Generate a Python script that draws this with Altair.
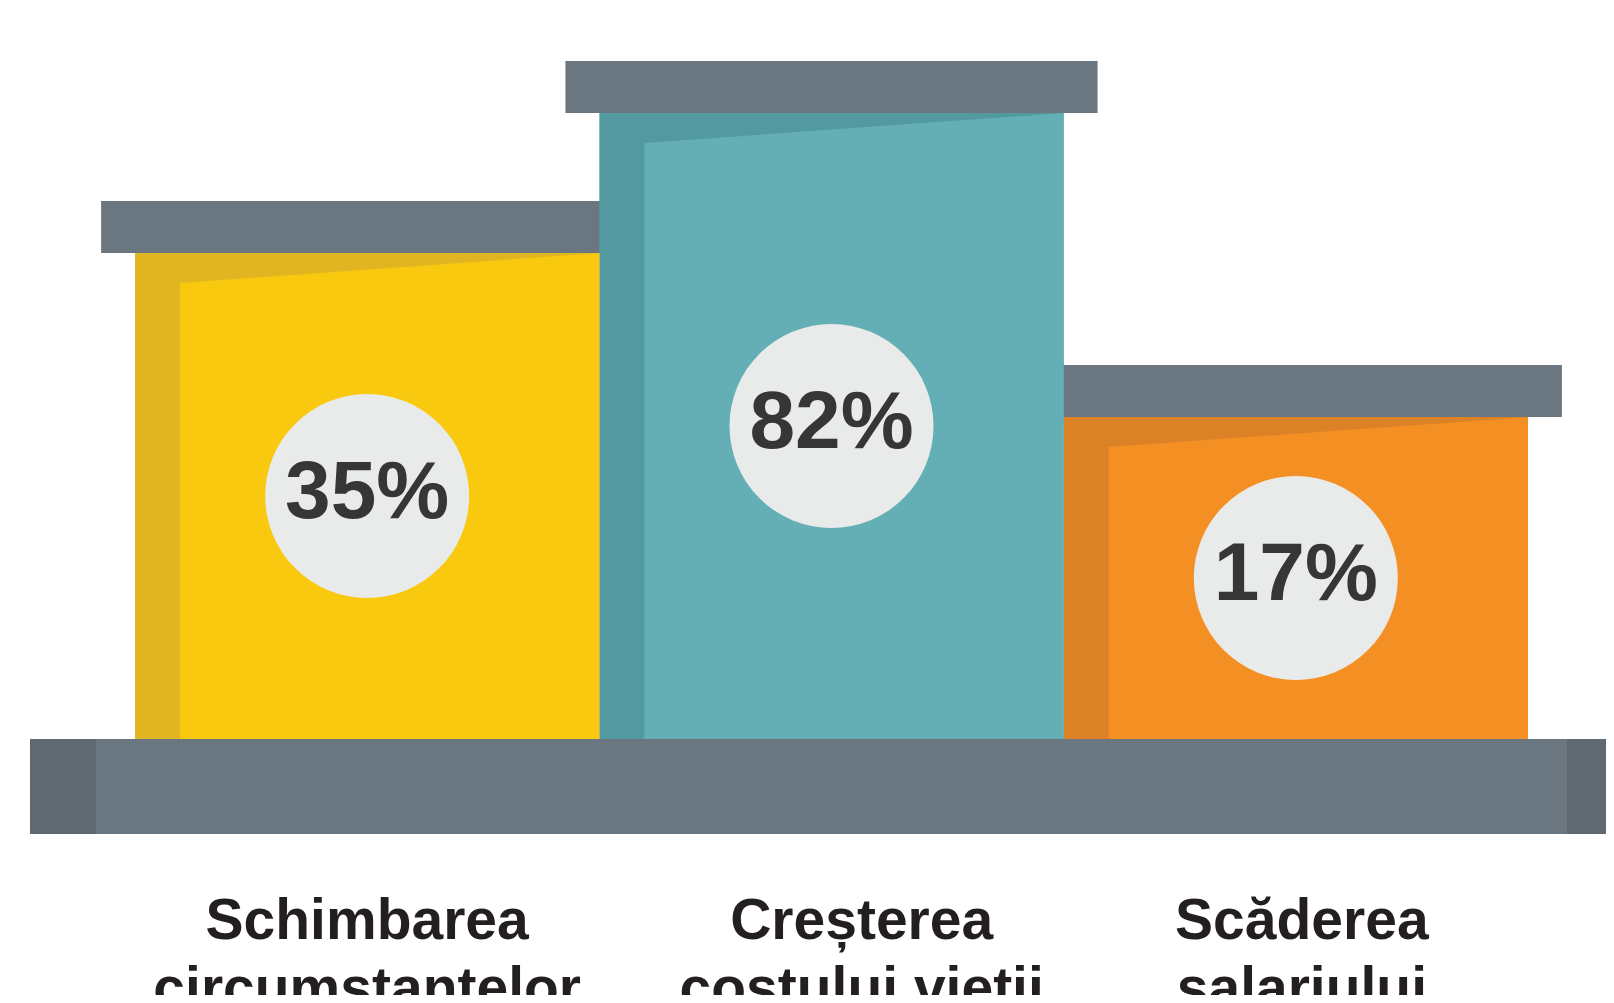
import altair as alt
import pandas as pd

# ---- data ----
categories = ["Schimbarea circumstantelor", "Creșterea costului vietii", "Scăderea salariului"]
label_text = ["Schimbarea\ncircumstantelor", "Creșterea\ncostului vietii", "Scăderea\nsalariului"]
values = [35, 82, 17]                 # percentages shown in the circles
podium_heights = [4.86, 6.26, 3.22]   # drawn podium heights (relative units)

# ---- styles ----
main_colors = ["#f9c90f", "#64afb5", "#f48f23"]
dark_colors = ["#e1b522", "#5399a0", "#db8227"]
CAP = "#6b7780"
BASE_END = "#5e6970"
CIRCLE = "#e9ebea"

# ---- frame (pixels per unit) ----
PX = 464.33
W, H = 1598, 987
x0 = -0.5 - (135 - 8) / PX
x1 = x0 + W / PX
y_top = (739 - 8) / 100.0
y_bot = y_top - H / 100.0

xs = alt.Scale(domain=[x0, x1], nice=False, zero=False)
ys = alt.Scale(domain=[y_bot, y_top], nice=False, zero=False)

n = len(categories)
df = pd.DataFrame({
    "cat": categories,
    "idx": list(range(n)),
    "value": values,
    "h": podium_heights,
    "label": label_text,
    "main": main_colors,
    "dark": dark_colors,
})

cap_over = 0.073
cap_thick = 0.52
strip = 0.097
slant = 0.30
base_over = 0.226
base_end = 0.142
base_depth = 0.95

base_df = pd.DataFrame({
    "x": [-0.5 - base_over, -0.5 - base_over, n - 0.5 + base_over - base_end],
    "x2": [n - 0.5 + base_over, -0.5 - base_over + base_end, n - 0.5 + base_over],
    "y": [0, 0, 0],
    "y2": [-base_depth] * 3,
    "fill": [CAP, BASE_END, BASE_END],
})

base = alt.Chart(base_df).mark_rect(clip=True).encode(
    x=alt.X("x:Q", scale=xs, axis=None),
    x2="x2:Q",
    y=alt.Y("y:Q", scale=ys, axis=None),
    y2="y2:Q",
    fill=alt.Fill("fill:N", scale=None),
)

caps = alt.Chart(df).transform_calculate(
    xl=f"datum.idx - 0.5 - {cap_over}",
    xr=f"datum.idx + 0.5 + {cap_over}",
    yt=f"datum.h + {cap_thick}",
).mark_rect(fill=CAP).encode(
    x=alt.X("xl:Q", scale=xs, axis=None),
    x2="xr:Q",
    y=alt.Y("h:Q", scale=ys, axis=None),
    y2="yt:Q",
)

bars_dark = alt.Chart(df).transform_calculate(
    xl="datum.idx - 0.5",
    xr="datum.idx + 0.5",
    y0="0",
).mark_rect().encode(
    x=alt.X("xl:Q", scale=xs, axis=None),
    x2="xr:Q",
    y=alt.Y("h:Q", scale=ys, axis=None),
    y2="y0:Q",
    fill=alt.Fill("dark:N", scale=None),
)

face_rows = []
for i, (c, h, col) in enumerate(zip(categories, podium_heights, main_colors)):
    face_rows.append({"cat": c, "x": i - 0.5 + strip, "top": h - slant, "main": col})
    face_rows.append({"cat": c, "x": i + 0.5, "top": h, "main": col})
face_df = pd.DataFrame(face_rows)

faces = alt.Chart(face_df).transform_calculate(y0="0").mark_area(interpolate="linear").encode(
    x=alt.X("x:Q", scale=xs, axis=None),
    y=alt.Y("top:Q", scale=ys, axis=None),
    y2="y0:Q",
    detail="cat:N",
    fill=alt.Fill("main:N", scale=None),
)

circles = alt.Chart(df).transform_calculate(cy="datum.h / 2").mark_point(
    shape="circle", filled=True, size=204 * 204, fill=CIRCLE, opacity=1, strokeWidth=0
).encode(
    x=alt.X("idx:Q", scale=xs, axis=None),
    y=alt.Y("cy:Q", scale=ys, axis=None),
)

pct = alt.Chart(df).transform_calculate(
    cy="datum.h / 2",
    txt="datum.value + '%'",
).mark_text(
    font="Liberation Sans", fontWeight="bold", fontSize=82, color="#363636",
    align="center", baseline="middle", dy=-3,
).encode(
    x=alt.X("idx:Q", scale=xs, axis=None),
    y=alt.Y("cy:Q", scale=ys, axis=None),
    text="txt:N",
)

labels = alt.Chart(df).transform_calculate(
    lx="datum.idx + (datum.idx == 1 ? 0.065 : (datum.idx == 2 ? 0.013 : 0))",
    ly="-2.0",
).mark_text(
    font="Liberation Sans", fontWeight="bold", fontSize=57, color="#231f20",
    align="center", baseline="alphabetic", lineBreak="\n", lineHeight=68,
).encode(
    x=alt.X("lx:Q", scale=xs, axis=None),
    y=alt.Y("ly:Q", scale=ys, axis=None),
    text="label:N",
)

chart = alt.layer(base, caps, bars_dark, faces, circles, pct, labels).properties(
    width=W, height=H, padding=0, background="white",
    autosize=alt.AutoSizeParams(type="none"),
).configure_view(stroke=None)

chart.save("out.html", embed_options={"renderer": "svg", "actions": False})
